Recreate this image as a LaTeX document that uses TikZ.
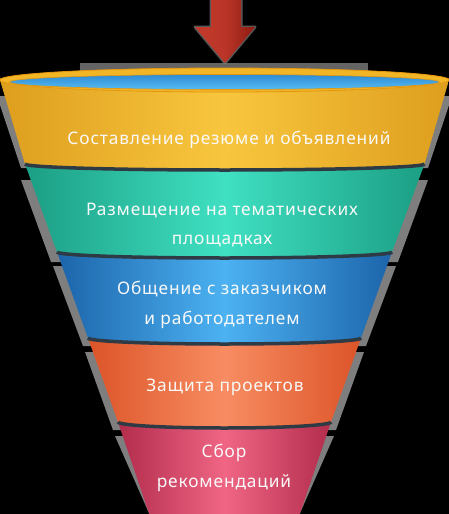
\documentclass[tikz,border=0pt]{standalone}
\usepackage{fontspec}
\setmainfont{Noto Sans}[LetterSpace=5]
\usetikzlibrary{calc}
\definecolor{sep}{HTML}{2E3A44}
\definecolor{shadowgray}{HTML}{7E7E7E}
\definecolor{yelE}{HTML}{DE9E1E}
\definecolor{yelM}{HTML}{F8C63E}
\definecolor{teaE}{HTML}{1B9E84}
\definecolor{teaM}{HTML}{40E0C2}
\definecolor{bluE}{HTML}{1C64AA}
\definecolor{bluM}{HTML}{4CB2F2}
\definecolor{oraE}{HTML}{DC5428}
\definecolor{oraM}{HTML}{F88C62}
\definecolor{pinE}{HTML}{B22C4C}
\definecolor{pinM}{HTML}{F06584}
\definecolor{arrE}{HTML}{8E1A10}
\definecolor{arrM}{HTML}{C23A2C}
\definecolor{rimY}{HTML}{F2B526}
\definecolor{rimO}{HTML}{E4960E}
\definecolor{rimBt}{HTML}{2F8CD4}
\definecolor{rimBb}{HTML}{56BBF2}
\tikzset{
  txt/.style={text=white!95!gray, font=\fontsize{17.3}{29.5}\selectfont, align=center, inner sep=0pt},
  sepline/.style={draw=sep, line width=3.5pt},
  graysliver/.style={fill=shadowgray},
}
\begin{document}
\begin{tikzpicture}[x=1pt,y=-1pt]
\useasboundingbox (0,0) rectangle (449,514);
\fill[black] (0,0) rectangle (449,514);
\clip (0,0) rectangle (449,514);
% gray slivers behind bands
\fill[graysliver] (-3,96) -- (21,168) -- (428,168) -- (452,96) -- cycle;
\fill[graysliver] (21,180) -- (51,262) -- (398,262) -- (428,180) -- cycle;
\fill[graysliver] (53,266) -- (83,346) -- (366,346) -- (396,266) -- cycle;
\fill[graysliver] (85,352) -- (113,430) -- (336,430) -- (364,352) -- cycle;
\fill[graysliver] (115,436) -- (152,520) -- (297,520) -- (334,436) -- cycle;
\fill[shadowgray!120!white] (80,63) rectangle (368,73);
% bands
\shade[left color=yelE, right color=yelE, middle color=yelM]
  (0,80) -- (25,164) arc[start angle=180,end angle=0,x radius=199.75,y radius=6] -- (449,80) -- cycle;
\shade[left color=teaE, right color=teaE, middle color=teaM]
  (25,164) arc[start angle=180,end angle=0,x radius=199.75,y radius=6]
  -- (392,252) arc[start angle=0,end angle=180,x radius=167.5,y radius=6] -- cycle;
\shade[left color=bluE, right color=bluE, middle color=bluM]
  (57,252) arc[start angle=180,end angle=0,x radius=167.5,y radius=6]
  -- (361,338) arc[start angle=0,end angle=180,x radius=136.5,y radius=6] -- cycle;
\shade[left color=oraE, right color=oraE, middle color=oraM]
  (88,338) arc[start angle=180,end angle=0,x radius=136.5,y radius=6]
  -- (331,422) arc[start angle=0,end angle=180,x radius=106.5,y radius=6] -- cycle;
\shade[left color=pinE, right color=pinE, middle color=pinM]
  (118,422) arc[start angle=180,end angle=0,x radius=106.5,y radius=6]
  -- (296,525) -- (153,525) -- cycle;
% separators
\draw[sepline] (25,164) arc[start angle=180,end angle=0,x radius=199.75,y radius=6];
\draw[sepline] (57,252) arc[start angle=180,end angle=0,x radius=167.5,y radius=6];
\draw[sepline] (88,338) arc[start angle=180,end angle=0,x radius=136.5,y radius=6];
\draw[sepline] (118,422) arc[start angle=180,end angle=0,x radius=106.5,y radius=6];
% rim
\fill[rimY, draw=rimO, line width=0.8pt] (224.5,80) ellipse[x radius=225,y radius=12];
\shade[top color=rimBt, bottom color=rimBb, draw=rimO, line width=0.6pt] (224.5,82) ellipse[x radius=215,y radius=7.5];
% arrow
\draw[shadowgray, line width=3pt, opacity=0.7, line join=round]
  (211,-2) -- (211,27) -- (195,27) -- (225,63) -- (255,27) -- (241,27) -- (241,-2);
\shade[left color=arrM, right color=arrE, middle color=arrM!85!arrE]
  (211,-2) -- (211,27) -- (195,27) -- (225,63) -- (255,27) -- (241,27) -- (241,-2) -- cycle;
% texts
\node[txt] (t1) at (229,140) {Составление резюме и объявлений};
\node[txt] (t2) at (222,225) {Размещение на тематических\\площадках};
\node[txt] (t3) at (222,305) {Общение с заказчиком\\и работодателем};
\node[txt] (t4) at (225,387) {Защита проектов};
\node[txt] (t5) at (224,468) {Сбор\\рекомендаций};
\end{tikzpicture}
\end{document}
